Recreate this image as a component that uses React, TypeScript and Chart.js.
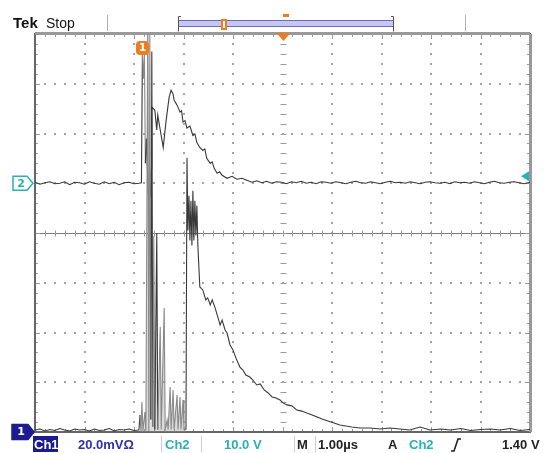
import { useEffect, useRef } from "react";
import { Chart, registerables } from "chart.js";

Chart.register(...registerables);

// ---- Scope settings (graticule is 10 x 8 divisions) ----
const timeMin = -5; // µs (1.00 µs/div, trigger at centre)
const timeMax = 5;
const divMin = -4;
const divMax = 4;
const ch1MvPerDiv = 20;
const ch1GroundDiv = -4;
const ch2VoltsPerDiv = 10;
const ch2GroundDiv = 1;
const triggerLevelVolts = 1.4;

// ---- Ch2 (10.0 V/div) ----
const ch2Time = [
  -5.0, -4.9, -4.8, -4.7, -4.6, -4.5, -4.4, -4.3, -4.2, -4.1, -4.0, -3.9, -3.8, -3.7, -3.6, -3.5, -3.4, -3.3, -3.2, -3.1, -3.0, -2.9,
  -2.85, -2.83, -2.81, -2.79, -2.77, -2.75, -2.73, -2.71, -2.69, -2.67, -2.65,
  -2.64, -2.58, -2.54, -2.52, -2.47, -2.41, -2.35, -2.29, -2.25, -2.21, -2.19, -2.16, -2.13, -2.07, -2.04, -2.01, -1.97, -1.93, -1.87, -1.81, -1.77,
  -1.73, -1.67, -1.61, -1.57, -1.53, -1.46, -1.42, -1.38, -1.32, -1.27, -1.22, -1.12, -1.02, -0.92, -0.82,
  -0.72, -0.62, -0.52, -0.42, -0.32, -0.22, -0.12, -0.02, 0.08, 0.18, 0.28, 0.38, 0.48, 0.58, 0.68, 0.78, 0.88, 0.98,
  1.08, 1.18, 1.28, 1.38, 1.48, 1.58, 1.68, 1.78, 1.88, 1.98, 2.08, 2.18, 2.28, 2.38, 2.48, 2.58, 2.68, 2.78, 2.88, 2.98,
  3.08, 3.18, 3.28, 3.38, 3.48, 3.58, 3.68, 3.78, 3.88, 3.98, 4.08, 4.18, 4.28, 4.38, 4.48, 4.58, 4.68, 4.78, 4.88, 5.0,
];
const ch2Volts = [
  0.2, -0.2, 0.1, 0.3, -0.1, 0.0, 0.3, -0.3, 0.2, 0.1, -0.2, 0.3, 0.0, -0.2, 0.3, -0.1, 0.2, -0.3, 0.1, 0.2, -0.1, 0.0,
  0.1, 26.3, 21.0, 26.0, 4.0, 9.0, 3.0, -2.4, -1.2, -2.8, 3.0,
  15.3, 14.7, 10.7, 13.7, 10.7, 7.2, 12.7, 17.3, 18.7, 17.9, 16.7, 16.2, 15.7, 14.3, 14.6, 12.3, 12.6, 11.1, 11.5, 9.6, 9.9,
  8.2, 7.2, 6.6, 6.9, 5.0, 4.0, 4.3, 3.0, 2.0, 2.3, 1.6, 1.0, 1.4, 0.8, 1.0,
  0.6, 0.2, 0.5, 0.1, 0.4, 0.0, 0.3, 0.2, -0.1, 0.3, 0.1, 0.4, 0.0, 0.2, -0.1, 0.3, 0.2, 0.0,
  0.3, 0.1, -0.1, 0.2, 0.4, 0.1, 0.0, 0.3, 0.1, -0.1, 0.2, 0.4, 0.1, 0.2, 0.0, 0.3, 0.1, -0.1, 0.2, 0.3,
  0.1, 0.0, 0.2, -0.1, 0.3, 0.1, 0.2, 0.0, 0.3, 0.1, -0.1, 0.2, 0.4, 0.1, 0.0, 0.2, 0.3, 0.1, -0.1, 0.2,
];

// ---- Ch1 (20.0 mV/div) ----
const ch1Time = [
  -5.0, -4.9, -4.8, -4.7, -4.6, -4.5, -4.4, -4.3, -4.2, -4.1, -4.0, -3.9, -3.8, -3.7, -3.6, -3.5, -3.4, -3.3, -3.2, -3.1, -3.0, -2.9,
  -2.88, -2.86, -2.84, -2.82, -2.78, -2.76, -2.72, -2.70, -2.68, -2.66, -2.64, -2.62, -2.60, -2.58, -2.54, -2.52,
  -2.47, -2.45, -2.39, -2.37, -2.33, -2.31, -2.27, -2.25, -2.21, -2.19, -2.13, -2.11, -2.07, -2.05, -2.01, -1.99, -1.95,
  -1.93, -1.91, -1.89, -1.87, -1.85, -1.83, -1.81, -1.79, -1.77, -1.75, -1.73, -1.71,
  -1.67, -1.61, -1.55, -1.51, -1.46, -1.42, -1.36, -1.30, -1.26, -1.22, -1.16, -1.12, -1.06, -1.00, -0.94, -0.86, -0.80, -0.74,
  -0.66, -0.60, -0.52, -0.45, -0.37, -0.29, -0.21, -0.13, -0.05, 0.01, 0.09, 0.19, 0.29, 0.39, 0.49, 0.60, 0.70, 0.80, 0.92,
  1.04, 1.16, 1.28, 1.40, 1.57, 1.77, 1.97, 2.17, 2.37, 2.57, 2.78, 2.98, 3.2, 3.4, 3.6, 3.8, 4.0, 4.2, 4.4, 4.6, 4.8, 5.0,
];
const ch1MilliVolts = [
  0.8, 1.2, 0.4, 1.0, 0.6, 1.4, 0.8, 0.4, 1.2, 0.8, 1.0, 0.4, 1.2, 0.6, 0.8, 1.4, 0.4, 1.0, 0.8, 1.2, 0.6, 0.8,
  6.8, 0.4, 12.1, 0.4, 8.0, 0.4, 175, 0.4, 160, 5.0, 153, 2.0, 78.8, 1.0, 80, 1.0,
  42.2, 1.0, 49.8, 1.0, 4.8, 1.0, 18.1, 1.0, 16.9, 1.0, 14.9, 1.0, 14.1, 1.0, 12.9, 1.0, 1.0,
  110.2, 81, 95, 77, 93, 75, 97, 77, 93, 79, 91, 75,
  58.3, 57.1, 53.1, 53.9, 51.1, 53.1, 49.8, 45.8, 43.0, 45.0, 41.0, 39.8, 35.0, 33.0, 29.7, 26.1, 24.9, 22.9,
  22.1, 20.9, 18.9, 19.3, 16.9, 15.7, 14.1, 13.7, 12.9, 11.7, 10.9, 10.5, 8.8, 8.4, 7.6, 6.8, 6.0, 5.2, 4.4,
  3.6, 2.8, 2.4, 2.0, 1.6, 1.6, 1.2, 1.6, 1.2, 0.8, 2.0, 0.8, 1.2, 0.8, 1.4, 0.6, 1.0, 1.2, 0.8, 1.4, 0.6, 1.0,
];

// ---- Burst region drawn in grey (µs) ----
const ch1BurstStart = -2.89;
const ch1BurstEnd = -1.94;
const ch1DarkSpikes = [-2.64, -2.54];
const ch2GreySpikeStart = -2.84;
const ch2GreySpikeEnd = -2.76;

const TRACE = "#383838";
const GREY = "#8a8a8a";
const ORANGE = "#f07c1c";
const TEAL = "#27b2b4";
const NAVY = "#1c1c8e";
const BLUE = "#2f2fb0";

const graticule = {
  id: "graticule",
  beforeDatasetsDraw(chart: any) {
    const { ctx, chartArea: a, scales } = chart;
    const x = scales.x;
    const y = scales.y;
    ctx.save();
    ctx.fillStyle = "#a4a4a4";
    for (let i = timeMin + 1; i < timeMax; i++) {
      if (i === 0) continue;
      const px = Math.round(x.getPixelForValue(i));
      for (let j = divMin * 5 + 1; j < divMax * 5; j++) {
        const py = Math.round(y.getPixelForValue(j / 5));
        ctx.fillRect(px - 1, py - 1, 2, 2);
      }
    }
    for (let j = divMin + 1; j < divMax; j++) {
      if (j === 0) continue;
      const py = Math.round(y.getPixelForValue(j));
      for (let i = timeMin * 5 + 1; i < timeMax * 5; i++) {
        const px = Math.round(x.getPixelForValue(i / 5));
        ctx.fillRect(px - 1, py - 1, 2, 2);
      }
    }
    const cx = Math.round(x.getPixelForValue(0)) + 0.5;
    const cy = Math.round(y.getPixelForValue(0)) + 0.5;
    ctx.strokeStyle = "#7a7a7a";
    ctx.lineWidth = 1;
    ctx.beginPath();
    ctx.moveTo(a.left, cy);
    ctx.lineTo(a.right, cy);
    ctx.stroke();
    ctx.strokeStyle = "#9a9a9a";
    ctx.beginPath();
    for (let i = timeMin * 5 + 1; i < timeMax * 5; i++) {
      const px = Math.round(x.getPixelForValue(i / 5)) + 0.5;
      ctx.moveTo(px, cy - 3);
      ctx.lineTo(px, cy + 3);
    }
    for (let j = divMin * 5 + 1; j < divMax * 5; j++) {
      const py = Math.round(y.getPixelForValue(j / 5)) + 0.5;
      ctx.moveTo(cx - 3, py);
      ctx.lineTo(cx + 3, py);
    }
    ctx.stroke();
    ctx.beginPath();
    for (let i = timeMin * 5 + 1; i < timeMax * 5; i++) {
      const px = Math.round(x.getPixelForValue(i / 5)) + 0.5;
      const len = i % 5 === 0 ? 5 : 3;
      ctx.moveTo(px, a.top);
      ctx.lineTo(px, a.top + len);
      ctx.moveTo(px, a.bottom);
      ctx.lineTo(px, a.bottom - len);
    }
    for (let j = divMin * 5 + 1; j < divMax * 5; j++) {
      const py = Math.round(y.getPixelForValue(j / 5)) + 0.5;
      const len = j % 5 === 0 ? 5 : 3;
      ctx.moveTo(a.left, py);
      ctx.lineTo(a.left + len, py);
      ctx.moveTo(a.right, py);
      ctx.lineTo(a.right - len, py);
    }
    ctx.stroke();
    ctx.strokeStyle = "#666";
    ctx.lineWidth = 2;
    ctx.strokeRect(a.left, a.top, a.right - a.left, a.bottom - a.top);
    ctx.strokeStyle = "#999";
    ctx.lineWidth = 3;
    ctx.beginPath();
    ctx.moveTo(a.right + 0.5, a.top);
    ctx.lineTo(a.right + 0.5, a.bottom);
    ctx.moveTo(a.left, a.top - 0.5);
    ctx.lineTo(a.right, a.top - 0.5);
    ctx.stroke();
    ctx.restore();
  },
};

function marker(ctx: CanvasRenderingContext2D, x0: number, yc: number, w: number, h: number, fill: string, stroke: string, label: string, color: string) {
  ctx.beginPath();
  ctx.moveTo(x0, yc - h / 2);
  ctx.lineTo(x0 + w - 6, yc - h / 2);
  ctx.lineTo(x0 + w, yc);
  ctx.lineTo(x0 + w - 6, yc + h / 2);
  ctx.lineTo(x0, yc + h / 2);
  ctx.closePath();
  ctx.fillStyle = fill;
  ctx.fill();
  ctx.strokeStyle = stroke;
  ctx.lineWidth = 1.5;
  ctx.stroke();
  ctx.fillStyle = color;
  ctx.font = 'bold 11px "DejaVu Sans"';
  ctx.textAlign = "center";
  ctx.textBaseline = "middle";
  ctx.fillText(label, x0 + (w - 4) / 2, yc + 0.5);
}

const overlay = {
  id: "overlay",
  afterDraw(chart: any) {
    const { ctx, chartArea: a, scales } = chart;
    const x = scales.x;
    const y = scales.y;
    ctx.save();
    ctx.textBaseline = "alphabetic";
    ctx.textAlign = "left";
    ctx.fillStyle = "#111";
    ctx.font = 'bold 15px "Liberation Sans"';
    ctx.fillText("Tek", 13, 28);
    ctx.font = '14px "Liberation Sans"';
    ctx.fillText("Stop", 46, 28);
    ctx.strokeStyle = "#b0b0b0";
    ctx.lineWidth = 1;
    ctx.beginPath();
    ctx.moveTo(107.5, 15);
    ctx.lineTo(107.5, 31);
    ctx.moveTo(465.5, 15);
    ctx.lineTo(465.5, 31);
    ctx.stroke();
    ctx.fillStyle = "#c6c6f2";
    ctx.fillRect(179, 21, 214, 5);
    ctx.strokeStyle = "#6b6bb8";
    ctx.beginPath();
    ctx.moveTo(179, 20.5);
    ctx.lineTo(393, 20.5);
    ctx.moveTo(179, 26.5);
    ctx.lineTo(393, 26.5);
    ctx.stroke();
    ctx.strokeStyle = "#555";
    ctx.beginPath();
    ctx.moveTo(181, 16.5);
    ctx.lineTo(178.5, 16.5);
    ctx.lineTo(178.5, 31.5);
    ctx.moveTo(391, 16.5);
    ctx.lineTo(393.5, 16.5);
    ctx.lineTo(393.5, 31.5);
    ctx.stroke();
    ctx.fillStyle = ORANGE;
    ctx.fillRect(221, 19, 6, 11);
    ctx.fillStyle = "#fff";
    ctx.fillRect(223, 21, 2, 7);
    ctx.fillStyle = ORANGE;
    ctx.fillRect(283, 14, 6, 3);
    const tx = x.getPixelForValue(0) + 1;
    ctx.beginPath();
    ctx.moveTo(tx - 7, a.top - 1);
    ctx.lineTo(tx + 7, a.top - 1);
    ctx.lineTo(tx, a.top + 7);
    ctx.closePath();
    ctx.fill();
    ctx.beginPath();
    ctx.roundRect(136, 41, 13, 14, 4);
    ctx.fill();
    ctx.fillStyle = "#fff";
    ctx.font = 'bold 11px "DejaVu Sans"';
    ctx.textAlign = "center";
    ctx.textBaseline = "middle";
    ctx.fillText("1", 142.5, 48.5);
    marker(ctx, 13, y.getPixelForValue(ch2GroundDiv), 20, 14, "#fff", TEAL, "2", TEAL);
    marker(ctx, 12, y.getPixelForValue(ch1GroundDiv), 22, 15, NAVY, NAVY, "1", "#fff");
    const ly = y.getPixelForValue(ch2GroundDiv + triggerLevelVolts / ch2VoltsPerDiv);
    ctx.fillStyle = TEAL;
    ctx.beginPath();
    ctx.moveTo(a.right - 9, ly);
    ctx.lineTo(a.right - 1, ly - 5);
    ctx.lineTo(a.right - 1, ly + 5);
    ctx.closePath();
    ctx.fill();
    const sy = 445;
    ctx.fillStyle = NAVY;
    ctx.fillRect(33, 436, 25, 16);
    ctx.textAlign = "left";
    ctx.textBaseline = "middle";
    ctx.font = 'bold 13px "Liberation Sans"';
    const items: [string, number, string][] = [
      ["Ch1", 34, "#fff"],
      ["20.0mV\u03A9", 78, BLUE],
      ["Ch2", 165, TEAL],
      ["10.0 V", 224, TEAL],
      ["M", 297, "#222"],
      ["1.00\u00B5s", 318, "#222"],
      ["A", 388, "#222"],
      ["Ch2", 409, TEAL],
      ["1.40 V", 502, "#222"],
    ];
    for (const [t, px, c] of items) {
      ctx.fillStyle = c;
      ctx.fillText(t, px, sy);
    }
    ctx.strokeStyle = "#cfcfcf";
    ctx.lineWidth = 1;
    ctx.beginPath();
    for (const sx of [161.5, 201.5, 294.5, 315.5]) {
      ctx.moveTo(sx, 436);
      ctx.lineTo(sx, 452);
    }
    ctx.stroke();
    ctx.strokeStyle = "#222";
    ctx.lineWidth = 1.6;
    ctx.beginPath();
    ctx.moveTo(451, 451);
    ctx.lineTo(454, 451);
    ctx.lineTo(458, 439);
    ctx.lineTo(461, 439);
    ctx.stroke();
    ctx.restore();
  },
};

function toPoints(times: number[], vals: number[], perDiv: number, offset: number) {
  return times.map((t, i) => ({ x: t, y: offset + vals[i] / perDiv }));
}

export default function App() {
  const ref = useRef<HTMLCanvasElement>(null);
  useEffect(() => {
    const inBurst = (c: any) => c.p0.parsed.x >= ch1BurstStart && c.p1.parsed.x <= ch1BurstEnd;
    const isDark = (c: any) =>
      ch1DarkSpikes.some((s) => Math.abs(c.p0.parsed.x - s) < 0.005 || Math.abs(c.p1.parsed.x - s) < 0.005);
    const chart = new Chart(ref.current!, {
      type: "line",
      data: {
        datasets: [
          {
            label: "Ch1",
            data: toPoints(ch1Time, ch1MilliVolts, ch1MvPerDiv, ch1GroundDiv),
            borderColor: TRACE,
            borderWidth: 1.1,
            pointRadius: 0,
            tension: 0,
            fill: { value: ch1GroundDiv },
            backgroundColor: "rgba(0,0,0,0)",
            segment: {
              borderColor: (c: any) => (inBurst(c) && !isDark(c) ? GREY : TRACE),
              backgroundColor: (c: any) => (inBurst(c) ? "rgba(150,150,150,0.35)" : "rgba(0,0,0,0)"),
            },
          },
          {
            label: "Ch2",
            data: toPoints(ch2Time, ch2Volts, ch2VoltsPerDiv, ch2GroundDiv),
            borderColor: TRACE,
            borderWidth: 1.1,
            pointRadius: 0,
            tension: 0,
            fill: false,
            segment: {
              borderColor: (c: any) =>
                c.p0.parsed.x >= ch2GreySpikeStart && c.p1.parsed.x <= ch2GreySpikeEnd ? GREY : TRACE,
            },
          },
        ],
      },
      options: {
        animation: false,
        responsive: false,
        devicePixelRatio: 1,
        layout: { padding: { left: 35, right: 15, top: 34, bottom: 21 } },
        plugins: { legend: { display: false }, tooltip: { enabled: false } },
        scales: {
          x: { type: "linear", min: timeMin, max: timeMax, display: false },
          y: { type: "linear", min: divMin, max: divMax, display: false },
        },
      },
      plugins: [graticule, overlay],
    });
    return () => chart.destroy();
  }, []);
  return (
    <div style={{ position: "absolute", left: 0, top: 0, width: 545, height: 453, background: "#fff" }}>
      <canvas ref={ref} width={545} height={453} style={{ display: "block", width: 545, height: 453 }} />
    </div>
  );
}
